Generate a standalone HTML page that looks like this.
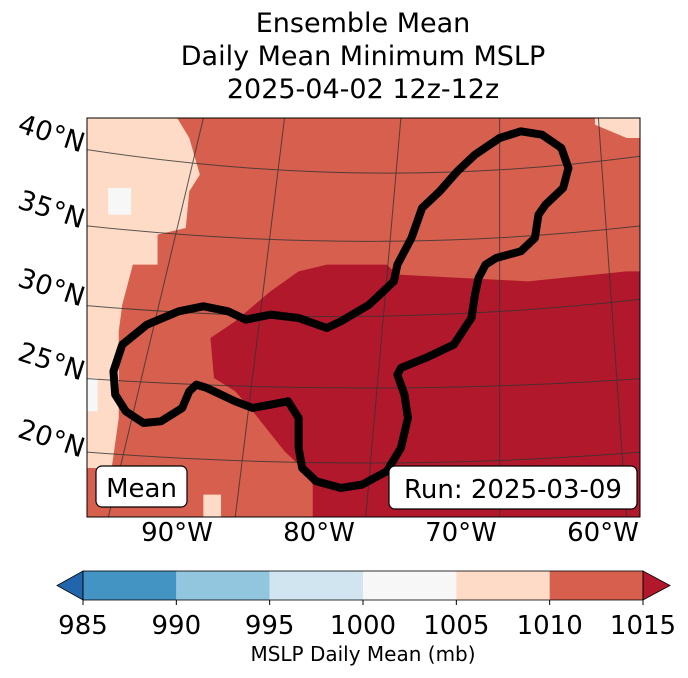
<!DOCTYPE html>
<html><head><meta charset="utf-8"><style>
body{margin:0;background:#fff;width:688px;height:674px;overflow:hidden;font-family:"DejaVu Sans","Liberation Sans",sans-serif}
</style></head><body>
<svg width="688" height="674" xmlns="http://www.w3.org/2000/svg" font-family="DejaVu Sans, Liberation Sans, sans-serif">
<g font-size="27" text-anchor="middle" fill="#000">
<text x="363" y="32">Ensemble Mean</text>
<text x="363" y="65">Daily Mean Minimum MSLP</text>
<text x="363" y="98">2025-04-02 12z-12z</text>
</g>
<defs><clipPath id="mc"><rect x="87" y="118" width="553" height="399"/></clipPath></defs>
<g clip-path="url(#mc)">
<rect x="87" y="118" width="553" height="399" fill="#d6604d"/>
<g transform="translate(87,118) scale(0.3527,0.3333)">
<polygon fill="#b2182b" points="350,660 420,610 520,520 600,460 680,440 850,440 880,470 1250,490 1530,460 1580,460 1580,1220 640,1220 640,1100 600,1040 560,1000 470,880 420,820 360,780"/>
<polygon fill="#fddbc7" points="-10,-10 250,-10 290,60 320,170 290,220 280,330 200,350 200,440 130,440 100,560 90,640 90,800 90,900 70,1050 -10,1050"/>
<polygon fill="#fddbc7" points="330,1130 380,1130 380,1220 330,1220"/>
<polygon fill="#fddbc7" points="1440,-10 1580,-10 1580,60 1530,60 1440,20"/>
<rect x="60" y="210" width="65" height="80" fill="#f7f7f7"/>
<rect x="-10" y="780" width="40" height="100" fill="#f7f7f7"/>
<g fill="none" stroke="#333" stroke-width="1" opacity="0.8">
<path vector-effect="non-scaling-stroke" d="M-30,90 Q800,230 1600,110"/>
<path vector-effect="non-scaling-stroke" d="M-30,320 Q800,420 1600,320"/>
<path vector-effect="non-scaling-stroke" d="M-30,560 Q800,640 1600,540"/>
<path vector-effect="non-scaling-stroke" d="M-30,780 Q800,840 1600,780"/>
<path vector-effect="non-scaling-stroke" d="M-30,1000 Q800,1070 1600,1000"/>
<path vector-effect="non-scaling-stroke" d="M330,0 L60,1200"/>
<path vector-effect="non-scaling-stroke" d="M560,0 L420,1200"/>
<path vector-effect="non-scaling-stroke" d="M890,0 L790,1200"/>
<path vector-effect="non-scaling-stroke" d="M1170,0 L1170,1200"/>
<path vector-effect="non-scaling-stroke" d="M1450,0 L1530,1200"/>
</g>
<path fill="none" stroke="#000" stroke-width="8" stroke-linejoin="round" vector-effect="non-scaling-stroke" d="M75,760 L100,680 170,620 260,580 330,565 400,580 450,605 520,590 600,600 680,630 720,610 800,560 870,490 880,440 920,360 950,270 1000,220 1050,160 1100,110 1170,60 1230,40 1290,50 1345,90 1365,150 1350,210 1300,260 1280,290 1270,360 1230,400 1160,420 1130,440 1110,480 1100,530 1090,600 1040,680 960,720 890,750 880,770 900,830 910,900 890,990 850,1060 780,1100 720,1110 650,1090 610,1050 600,990 600,900 570,850 520,860 470,870 420,850 340,810 310,800 290,820 270,870 210,910 160,915 110,880 80,830 Z"/>
</g>
</g>
<rect x="87" y="118" width="553" height="399" fill="none" stroke="#000" stroke-width="1"/>
<g font-size="27" fill="#000" text-anchor="end">
<text x="86" y="142" transform="rotate(18 50 132)">40°N</text>
<text x="86" y="218" transform="rotate(18 50 208)">35°N</text>
<text x="86" y="296" transform="rotate(18 50 286)">30°N</text>
<text x="86" y="370" transform="rotate(18 50 360)">25°N</text>
<text x="86" y="447" transform="rotate(18 50 437)">20°N</text>
</g>
<g font-size="26" fill="#000" text-anchor="middle">
<text x="177" y="541">90°W</text><text x="319" y="541">80°W</text><text x="461" y="541">70°W</text><text x="603" y="541">60°W</text>
</g>
<g>
<rect x="96" y="466" width="91" height="41" rx="6" fill="#fff" stroke="#000" stroke-width="1.2"/>
<text x="141.5" y="497" font-size="26" text-anchor="middle">Mean</text>
</g>
<g>
<rect x="389" y="466" width="248" height="43" rx="6" fill="#fff" stroke="#000" stroke-width="1.2"/>
<text x="513" y="498" font-size="26" text-anchor="middle">Run: 2025-03-09</text>
</g>
<g id="cbar"></g>
<text x="363" y="661" font-size="20" text-anchor="middle">MSLP Daily Mean (mb)</text>
</svg>
<script>
const levels=[985,990,995,1000,1005,1010,1015];
const binColors=["#4393c3","#92c5de","#d1e5f0","#f7f7f7","#fddbc7","#d6604d"];
const underColor="#2166ac", overColor="#b2182b";
const NS="http://www.w3.org/2000/svg";
const g=document.getElementById('cbar');
const x0=83,x1=643,y0=571,y1=600;
const sx=v=>x0+(v-levels[0])/(levels[levels.length-1]-levels[0])*(x1-x0);
function mk(t,a){const e=document.createElementNS(NS,t);for(const k in a)e.setAttribute(k,a[k]);g.appendChild(e);return e;}
for(let i=0;i<binColors.length;i++){
 const r=mk('rect',{x:sx(levels[i]),y:y0,width:sx(levels[i+1])-sx(levels[i]),height:y1-y0,fill:binColors[i]});
 
 
}
const lt=mk('polygon',{points:`${x0},${y0} ${x0},${y1} 57,${(y0+y1)/2}`,fill:underColor,stroke:'#000','stroke-width':0.8});


const rt=mk('polygon',{points:`${x1},${y0} ${x1},${y1} 670,${(y0+y1)/2}`,fill:overColor,stroke:'#000','stroke-width':0.8});


mk('rect',{x:x0,y:y0,width:x1-x0,height:y1-y0,fill:'none',stroke:'#000','stroke-width':0.8});
levels.forEach(v=>{
 mk('line',{x1:sx(v),x2:sx(v),y1:y1,y2:y1+5,stroke:'#000'});
 const t=mk('text',{x:sx(v),y:634,'font-size':26,'text-anchor':'middle'});
 t.textContent=v;
 
 
});
</script>
</body></html>
